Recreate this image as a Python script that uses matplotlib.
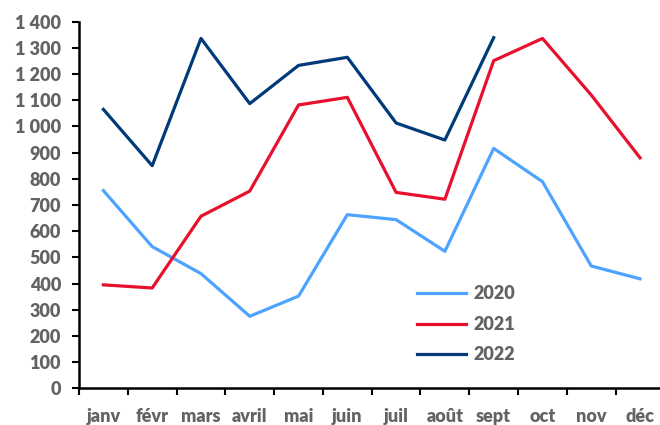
import matplotlib.pyplot as plt
import numpy as np

# Monthly values
months = ['janv', 'févr', 'mars', 'avril', 'mai', 'juin',
          'juil', 'août', 'sept', 'oct', 'nov', 'déc']
y2020 = [755, 541, 438, 275, 352, 663, 644, 523, 916, 789, 467, 418]
y2021 = [395, 383, 657, 753, 1082, 1111, 748, 722, 1251, 1336, 1120, 880]
y2022 = [1065, 850, 1336, 1087, 1233, 1264, 1013, 948, 1339]
yticks = list(range(0, 1401, 100))

text_col = '#636363'
plt.rcParams['font.family'] = ['Lato', 'DejaVu Sans']

fig = plt.figure(figsize=(6.6, 4.25), dpi=100)
ax = fig.add_axes([0.1197, 0.0864, 0.887, 0.8626])

x = np.arange(len(months))
ax.plot(x, y2020, color='#4DA3FF', lw=2.3, label='2020')
ax.plot(x, y2021, color='#E8112D', lw=2.3, label='2021')
ax.plot(x[:len(y2022)], y2022, color='#003A78', lw=2.3, label='2022')

ax.set_xlim(-0.5, 11.5)
ax.set_ylim(0, 1400)

# category boundaries as major ticks, labels centered on the months
ax.set_xticks(np.arange(-0.5, 12, 1))
ax.set_xticklabels([])
ax.set_xticks(x, minor=True)
ax.set_xticklabels(months, minor=True)
ax.tick_params(axis='x', which='major', length=5, width=1.5, direction='out')
ax.tick_params(axis='x', which='minor', length=0, pad=14,
               labelsize=13, labelcolor=text_col)

ax.set_yticks(yticks)
ax.set_yticklabels([f'{v:,}'.replace(',', '\u00a0') for v in yticks])
ax.tick_params(axis='y', length=5, width=1.5, direction='out', pad=8,
               labelsize=13, labelcolor=text_col)
for lbl in ax.get_xticklabels(minor=True) + ax.get_yticklabels():
    lbl.set_fontweight('heavy')

for side in ['top', 'right']:
    ax.spines[side].set_visible(False)
for side in ['left', 'bottom']:
    ax.spines[side].set_linewidth(1.8)

leg = ax.legend(loc='upper left', bbox_to_anchor=(0.55, 0.325), frameon=False,
                handlelength=2.7, handletextpad=0.4, labelspacing=0.75,
                prop={'size': 13, 'weight': 'heavy'})
for t in leg.get_texts():
    t.set_color(text_col)

fig.savefig('out.png', dpi=100)
